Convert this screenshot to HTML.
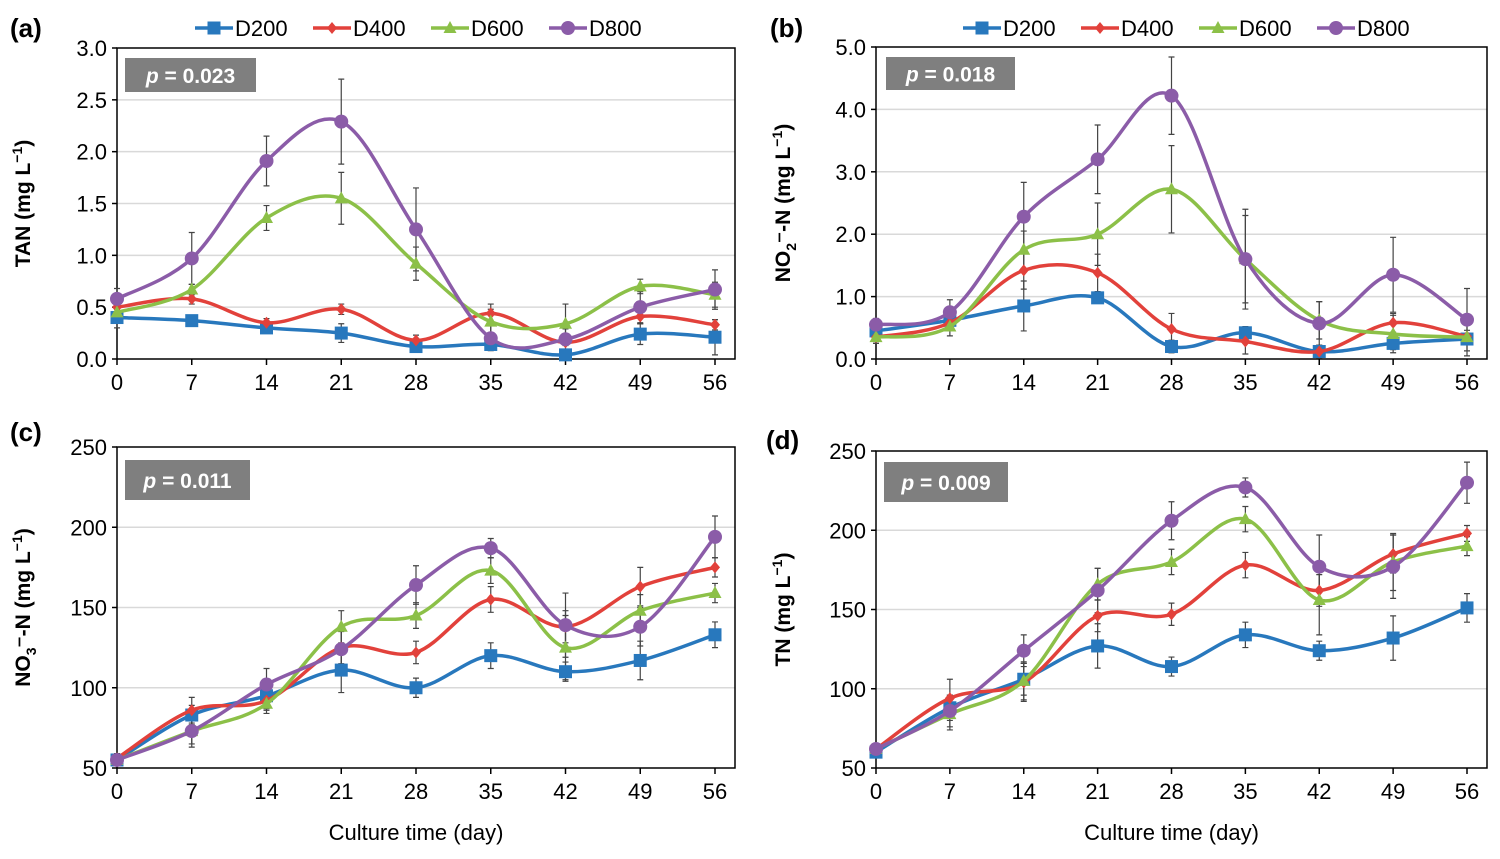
<!DOCTYPE html><html><head><meta charset="utf-8"><style>
body{margin:0;background:#fff;width:1500px;height:854px;overflow:hidden;font-family:"Liberation Sans",sans-serif}
</style></head><body>
<svg id="s" width="1500" height="854" xmlns="http://www.w3.org/2000/svg" font-family="Liberation Sans, sans-serif"></svg>
<script>
const C=["#2878bd","#e2413b","#8cc048","#8b5ca8"],N=["D200","D400","D600","D800"];
const P=[
{x0:117,x1:715,yt:48,yb:359,right:735,ymax:3,ymin:0,step:0.5,dec:1,lab:"(a)",ll:[10,28],p:"p = 0.023",pb:[125,58,131,34],
 yl:'TAN (mg L<tspan dy="-8" font-size="14">−1</tspan><tspan dy="8">)</tspan>',ylx:30,
 d:[[.40,.37,.30,.25,.12,.14,.04,.24,.21],[.50,.58,.35,.48,.18,.44,.16,.41,.33],[.45,.67,1.36,1.55,.92,.36,.34,.70,.62],[.58,.97,1.91,2.29,1.25,.20,.19,.50,.67]],
 e:[[.1,.05,.05,.09,.03,.05,.03,.1,.17],[.1,.05,.04,.05,.05,.09,.03,.07,.05],[.1,.05,.12,.25,.16,.12,.19,.07,.12],[.1,.25,.24,.41,.4,.12,.1,.15,.19]]},
{x0:876,x1:1467,yt:47,yb:359,right:1487,ymax:5,ymin:0,step:1,dec:1,lab:"(b)",ll:[770,28],p:"p = 0.018",pb:[886,57,129,33],
 yl:'NO<tspan dy="6" font-size="14">2</tspan><tspan dy="-6">⁻-N (mg L</tspan><tspan dy="-8" font-size="14">−1</tspan><tspan dy="8">)</tspan>',ylx:790,
 d:[[.45,.62,.85,.98,.2,.42,.12,.25,.32],[.35,.58,1.42,1.38,.48,.28,.12,.58,.36],[.35,.52,1.75,2.0,2.72,1.6,.62,.4,.35],[.55,.75,2.28,3.2,4.22,1.6,.57,1.35,.63]],
 e:[[.1,.1,.4,.08,.1,.1,.05,.1,.05],[.1,.1,.3,.3,.25,.2,.1,.15,.1],[.1,.15,.3,.5,.7,.7,.3,.3,.3],[.1,.2,.55,.55,.62,.8,.35,.6,.5]]},
{x0:117,x1:715,yt:447,yb:768,right:735,ymax:250,ymin:50,step:50,dec:0,lab:"(c)",ll:[10,432],p:"p = 0.011",pb:[125,460,125,40],
 yl:'NO<tspan dy="6" font-size="14">3</tspan><tspan dy="-6">⁻-N (mg L</tspan><tspan dy="-8" font-size="14">−1</tspan><tspan dy="8">)</tspan>',ylx:30,xt:"Culture time (day)",
 d:[[55,83,95,111,100,120,110,117,133],[56,86,92,125,122,155,138,163,175],[55,73,90,138,145,173,125,148,159],[55,73,102,124,164,187,139,138,194]],
 e:[[3,6,8,14,6,8,6,12,8],[3,8,6,10,7,8,10,12,6],[3,8,6,10,8,8,20,10,6],[3,10,10,14,12,6,20,12,13]]},
{x0:876,x1:1467,yt:451,yb:768,right:1487,ymax:250,ymin:50,step:50,dec:0,lab:"(d)",ll:[766,440],p:"p = 0.009",pb:[884,462,124,40],
 yl:'TN (mg L<tspan dy="-8" font-size="14">−1</tspan><tspan dy="8">)</tspan>',ylx:790,xt:"Culture time (day)",
 d:[[60,88,106,127,114,134,124,132,151],[62,94,104,146,147,178,162,185,198],[62,84,105,166,180,207,156,180,190],[62,86,124,162,206,227,177,177,230]],
 e:[[3,8,10,14,6,8,6,14,9],[3,12,12,10,7,8,10,12,5],[3,10,12,10,8,8,22,18,6],[3,10,10,14,12,6,20,20,13]]}];
let h="";
function smooth(pts){let s=`M${pts[0][0]},${pts[0][1]}`;for(let i=0;i<pts.length-1;i++){const p0=pts[i-1]||pts[i],p1=pts[i],p2=pts[i+1],p3=pts[i+2]||p2,t=.5/3;
s+=`C${p1[0]+(p2[0]-p0[0])*t},${p1[1]+(p2[1]-p0[1])*t} ${p2[0]-(p3[0]-p1[0])*t},${p2[1]-(p3[1]-p1[1])*t} ${p2[0]},${p2[1]}`;}return s;}
function mk(k,x,y){const c=C[k];if(k==0)return `<rect x="${x-6.5}" y="${y-6.5}" width="13" height="13" fill="${c}"/>`;
if(k==1)return `<path d="M${x},${y-6}L${x+5},${y}L${x},${y+6}L${x-5},${y}Z" fill="${c}"/>`;
if(k==2)return `<path d="M${x},${y-7}L${x+6.5},${y+5}L${x-6.5},${y+5}Z" fill="${c}"/>`;
return `<circle cx="${x}" cy="${y}" r="7" fill="${c}"/>`;}
for(const p of P){
 const X=i=>p.x0+(p.x1-p.x0)*i/8,Y=v=>p.yb-(v-p.ymin)/(p.ymax-p.ymin)*(p.yb-p.yt);
 for(let v=p.ymin+p.step;v<p.ymax-1e-9;v+=p.step)h+=`<line x1="${p.x0}" x2="${p.right}" y1="${Y(v)}" y2="${Y(v)}" stroke="#d9d9d9" stroke-width="1.5"/>`;
 h+=`<rect x="${p.x0}" y="${p.yt}" width="${p.right-p.x0}" height="${p.yb-p.yt}" fill="none" stroke="#000" stroke-width="1.5"/>`;
 for(let v=p.ymin;v<=p.ymax+1e-9;v+=p.step){h+=`<line x1="${p.x0-5}" x2="${p.x0}" y1="${Y(v)}" y2="${Y(v)}" stroke="#000" stroke-width="1.5"/><text x="${p.x0-10}" y="${Y(v)+8}" text-anchor="end" font-size="22">${v.toFixed(p.dec)}</text>`;}
 for(let i=0;i<9;i++){h+=`<line x1="${X(i)}" x2="${X(i)}" y1="${p.yb}" y2="${p.yb+6}" stroke="#000" stroke-width="1.5"/><text x="${X(i)}" y="${p.yb+31}" text-anchor="middle" font-size="22">${i*7}</text>`;}
 for(let k=0;k<4;k++)for(let i=0;i<9;i++){const x=X(i),a=Y(p.d[k][i]+p.e[k][i]),b=Y(Math.max(p.ymin,p.d[k][i]-p.e[k][i]));
  h+=`<path d="M${x},${a}V${b}M${x-3},${a}h6M${x-3},${b}h6" stroke="#444" stroke-width="1.2" fill="none"/>`;}
 for(let k=0;k<4;k++){const pts=p.d[k].map((v,i)=>[X(i),Y(v)]);h+=`<path d="${smooth(pts)}" stroke="${C[k]}" stroke-width="3.5" fill="none"/>`;pts.forEach(q=>h+=mk(k,q[0],q[1]));}
 h+=`<rect x="${p.pb[0]}" y="${p.pb[1]}" width="${p.pb[2]}" height="${p.pb[3]}" fill="#7f7f7f"/><text x="${p.pb[0]+p.pb[2]/2}" y="${p.pb[1]+p.pb[3]/2+8}" text-anchor="middle" font-size="21" font-weight="bold" fill="#fff"><tspan font-style="italic">p</tspan>${p.p.slice(1)}</text>`;
 h+=`<text x="${p.ll[0]}" y="${p.ll[1]+9}" font-size="26" font-weight="bold">${p.lab}</text>`;
 const cy=(p.yt+p.yb)/2;h+=`<text transform="translate(${p.ylx},${cy}) rotate(-90)" text-anchor="middle" font-size="21" font-weight="bold">${p.yl}</text>`;
 if(p.xt)h+=`<text x="${(p.x0+p.x1)/2}" y="${p.yb+72}" text-anchor="middle" font-size="22">${p.xt}</text>`;
}
for(const L of [[195,28],[963,28]]){let x=L[0];for(let k=0;k<4;k++){h+=`<line x1="${x}" x2="${x+38}" y1="${L[1]}" y2="${L[1]}" stroke="${C[k]}" stroke-width="3.5"/>`+mk(k,x+19,L[1])+`<text x="${x+40}" y="${L[1]+8}" font-size="22">${N[k]}</text>`;x+=118;}}
document.getElementById("s").innerHTML=h;
</script></body></html>
